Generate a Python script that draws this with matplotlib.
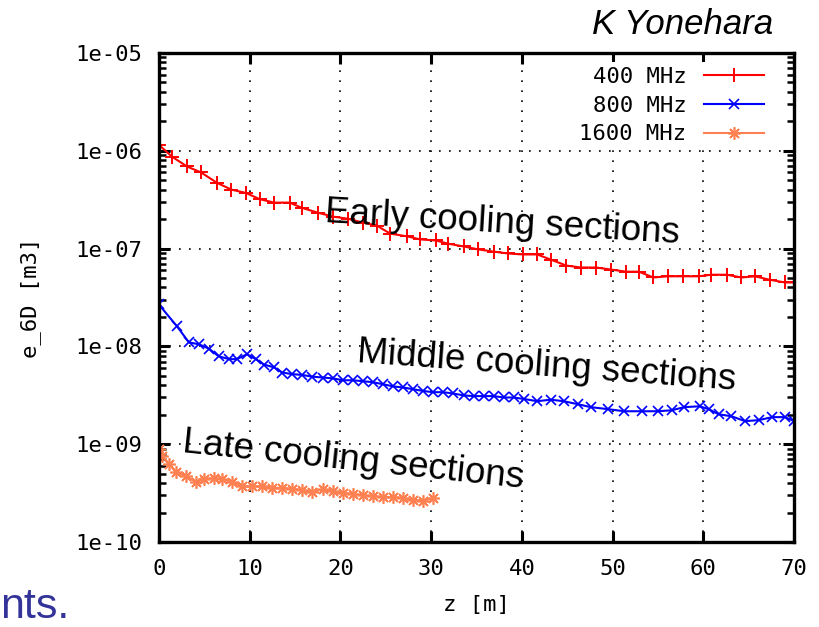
import numpy as np
import matplotlib
matplotlib.use("Agg")
import matplotlib.pyplot as plt
from matplotlib.ticker import LogLocator, NullFormatter, FixedLocator

# 400 MHz (early cooling)
z_400 = [0, 1.44, 3.1, 4.65, 6.4, 8.0, 9.6, 11.1, 12.7, 14.4, 15.8, 17.5, 19.2, 20.8,
         22.5, 24.0, 25.5, 27.4, 28.8, 30.5, 31.9, 33.6, 35.2, 36.9, 38.5, 40.1, 41.7,
         43.2, 44.9, 46.5, 48.2, 49.8, 51.5, 52.9, 54.5, 56.1, 57.8, 59.5, 60.9, 62.6,
         64.2, 65.7, 67.3, 69.0, 70.0]
e_400 = [1.15e-6, 8.7e-7, 6.9e-7, 6.0e-7, 4.7e-7, 4.0e-7, 3.7e-7, 3.2e-7, 2.95e-7, 2.95e-7,
         2.6e-7, 2.33e-7, 2.12e-7, 2.02e-7, 1.84e-7, 1.72e-7, 1.42e-7, 1.33e-7, 1.24e-7,
         1.21e-7, 1.12e-7, 1.05e-7, 9.8e-8, 9.3e-8, 8.9e-8, 8.7e-8, 8.7e-8, 7.7e-8, 6.7e-8,
         6.4e-8, 6.4e-8, 6.1e-8, 5.8e-8, 5.8e-8, 5.06e-8, 5.2e-8, 5.2e-8, 5.2e-8, 5.4e-8,
         5.4e-8, 5.06e-8, 5.2e-8, 4.8e-8, 4.5e-8, 4.5e-8]

# 800 MHz (middle cooling)
z_800 = [0, 2.0, 3.3, 4.4, 5.5, 6.6, 7.75, 8.6, 9.7, 10.7, 11.6, 12.7, 13.6, 14.7, 15.8,
         16.9, 18.1, 19.2, 20.3, 21.4, 22.5, 23.6, 24.7, 25.8, 26.9, 28.0, 29.1, 30.2, 31.3,
         32.4, 33.6, 34.7, 35.8, 36.9, 38.0, 39.1, 40.2, 41.7, 43.2, 44.6, 46.2, 47.6, 49.5,
         51.3, 53.2, 55.0, 56.5, 57.9, 59.6, 60.6, 61.7, 63.1, 64.6, 66.1, 67.6, 69.0, 70.0]
e_800 = [2.68e-8, 1.6e-8, 1.1e-8, 1.05e-8, 9.5e-9, 7.9e-9, 7.4e-9, 7.4e-9, 8.3e-9, 7.4e-9,
         6.5e-9, 6.1e-9, 5.4e-9, 5.2e-9, 5.1e-9, 4.9e-9, 4.8e-9, 4.7e-9, 4.5e-9, 4.5e-9,
         4.4e-9, 4.3e-9, 4.1e-9, 3.9e-9, 3.8e-9, 3.65e-9, 3.5e-9, 3.4e-9, 3.4e-9, 3.3e-9,
         3.15e-9, 3.1e-9, 3.1e-9, 3.1e-9, 3.0e-9, 3.0e-9, 2.9e-9, 2.75e-9, 2.85e-9, 2.75e-9,
         2.56e-9, 2.39e-9, 2.28e-9, 2.17e-9, 2.17e-9, 2.17e-9, 2.22e-9, 2.39e-9, 2.44e-9,
         2.28e-9, 2.02e-9, 1.93e-9, 1.72e-9, 1.76e-9, 1.89e-9, 1.89e-9, 1.72e-9]

# 1600 MHz (late cooling)
z_1600 = [0, 0.33, 1.1, 1.9, 3.0, 4.1, 5.0, 6.1, 7.0, 8.1, 9.2, 10.3, 11.4, 12.5, 13.6,
          14.7, 15.8, 16.9, 18.1, 19.2, 20.3, 21.4, 22.5, 23.6, 24.7, 25.8, 26.9, 28.0,
          29.1, 30.2]
e_1600 = [8.9e-10, 7.6e-10, 6.25e-10, 5.2e-10, 4.7e-10, 4.1e-10, 4.4e-10, 4.5e-10, 4.4e-10,
          4.1e-10, 3.7e-10, 3.7e-10, 3.7e-10, 3.6e-10, 3.56e-10, 3.5e-10, 3.4e-10, 3.24e-10,
          3.45e-10, 3.3e-10, 3.16e-10, 3.1e-10, 3.0e-10, 2.95e-10, 2.88e-10, 2.88e-10,
          2.82e-10, 2.7e-10, 2.65e-10, 2.8e-10]

x_ticks = [0, 10, 20, 30, 40, 50, 60, 70]
y_ticks = [1e-10, 1e-9, 1e-8, 1e-7, 1e-6, 1e-5]
y_ticklabels = ["1e-10", "1e-09", "1e-08", "1e-07", "1e-06", "1e-05"]

mono = "DejaVu Sans Mono"
sans = "Liberation Sans"

fig = plt.figure(figsize=(8.19, 6.27), dpi=100)
ax = fig.add_axes([0.194, 0.1356, 0.7755, 0.78])

ax.plot(z_400, e_400, color="#ff0000", lw=1.5, marker="+", ms=10, mew=1.4, label="400 MHz")
ax.plot(z_800, e_800, color="#0000ff", lw=1.5, marker="x", ms=7, mew=1.2, label="800 MHz")
ax.plot(z_1600, e_1600, color="#ff8050", lw=1.5, marker=(8, 2, 0), ms=9, mew=1.2,
        label="1600 MHz")

ax.set_yscale("log")
ax.set_xlim(0, 70)
ax.set_ylim(1e-10, 1e-5)

ax.xaxis.set_major_locator(FixedLocator(x_ticks))
ax.set_xticklabels([str(t) for t in x_ticks], fontfamily=mono, fontsize=16)
ax.yaxis.set_major_locator(FixedLocator(y_ticks))
ax.set_yticklabels(y_ticklabels, fontfamily=mono, fontsize=16)
ax.yaxis.set_minor_locator(LogLocator(base=10, subs=np.arange(2, 10), numticks=20))
ax.yaxis.set_minor_formatter(NullFormatter())

ax.tick_params(which="both", direction="in", top=True, right=True, colors="black")
ax.tick_params(which="major", length=8, width=2.2)
ax.tick_params(which="minor", length=5, width=1.8)
ax.tick_params(axis="y", pad=12)
ax.tick_params(axis="x", pad=12)
for sp in ax.spines.values():
    sp.set_linewidth(2.4)

ax.grid(True, which="major", color="black", lw=1.2, linestyle=(0, (1, 5)))

ax.set_xlabel("z [m]", fontfamily=mono, fontsize=16, labelpad=12)
ax.set_ylabel("e_6D [m3]", fontfamily=mono, fontsize=16)
ax.yaxis.set_label_coords(-0.185, 0.5)

# gnuplot key: no border, but blanks the grid behind it
leg = ax.legend(loc="upper right", bbox_to_anchor=(0.96, 0.981), frameon=True,
                facecolor="white", edgecolor="none", framealpha=1, fancybox=False,
                borderpad=0.2, markerfirst=False, handlelength=2.7, handletextpad=0.8,
                labelspacing=0.4, borderaxespad=0,
                prop={"family": mono, "size": 16})

ax.text(0.261, 0.654, "Early cooling sections", transform=ax.transAxes, fontsize=26.5,
        fontfamily=sans, rotation=-3.4, rotation_mode="anchor", ha="left", va="baseline")
ax.text(0.312, 0.368, "Middle cooling sections", transform=ax.transAxes, fontsize=26.5,
        fontfamily=sans, rotation=-4.2, rotation_mode="anchor", ha="left", va="baseline")
ax.text(0.036, 0.184, "Late cooling sections", transform=ax.transAxes, fontsize=26.5,
        fontfamily=sans, rotation=-6.0, rotation_mode="anchor", ha="left", va="baseline")

fig.text(773 / 819, 1 - 34 / 627, "K Yonehara", fontsize=25, fontfamily=sans,
         style="italic", ha="right", va="baseline")
fig.text(0.0, 1 - 618 / 627, "nts.", fontsize=31, fontfamily=sans,
         color="#333399", ha="left", va="baseline")

fig.savefig("out.png", dpi=100)
